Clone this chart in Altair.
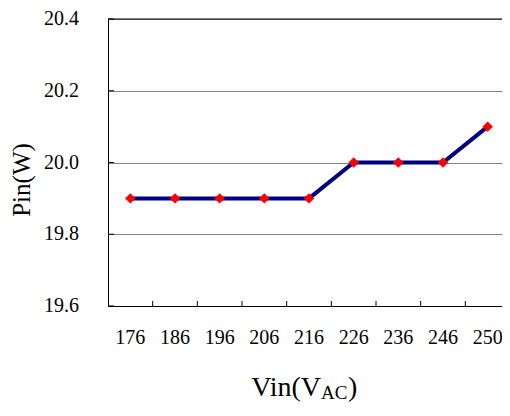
import altair as alt
import pandas as pd

vin = ["176", "186", "196", "206", "216", "226", "236", "246", "250"]
pin = [19.9, 19.9, 19.9, 19.9, 19.9, 20.0, 20.0, 20.0, 20.1]
y_ticks = [19.6, 19.8, 20.0, 20.2, 20.4]
x_title = ["Vin(V", "AC", ")"]
y_title = "Pin(W)"

W, H = 394, 287
FONT = "Liberation Serif"

df = pd.DataFrame({"vin": vin, "pin": pin})
xscale = alt.Scale(type="band", domain=vin, paddingInner=0, paddingOuter=0, range=[0, 402])
yscale = alt.Scale(domain=[19.6, 20.4], nice=False, zero=False)

base = alt.Chart(df)

line = base.mark_line(color="#000080", strokeWidth=4).encode(
    x=alt.X("vin:O", scale=xscale, bandPosition=0.5,
            axis=alt.Axis(title=None, ticks=False, labels=False, grid=False,
                          domainColor="black", domainWidth=1)),
    y=alt.Y("pin:Q", scale=yscale,
            axis=alt.Axis(title=None, values=y_ticks, ticks=False, labels=False, grid=True,
                          gridColor="#808080", gridWidth=1,
                          domainColor="black", domainWidth=1)),
)

pts = base.mark_point(shape="diamond", filled=True, color="#ff0000", opacity=1, size=110).encode(
    x=alt.X("vin:O", scale=xscale, bandPosition=0.5),
    y=alt.Y("pin:Q", scale=yscale),
)

xlab = base.mark_text(font=FONT, fontSize=20, align="center", baseline="alphabetic",
                      color="black").encode(
    x=alt.X("vin:O", scale=xscale, bandPosition=0.5),
    y=alt.value(H + 38),
    text="vin:N",
)

xt = alt.Chart(pd.DataFrame({"vin": vin[1:]})).mark_rule(color="black", strokeWidth=1).encode(
    x=alt.X("vin:O", scale=xscale, bandPosition=0),
    y=alt.value(H - 5), y2=alt.value(H),
)

ydf = pd.DataFrame({"v": y_ticks})
yt = alt.Chart(ydf).mark_rule(color="black", strokeWidth=1).encode(
    y=alt.Y("v:Q", scale=yscale),
    x=alt.value(0), x2=alt.value(6),
)

ylab = alt.Chart(ydf).transform_calculate(
    lab="format(datum.v, '.1f')"
).mark_text(font=FONT, fontSize=20, align="right", baseline="middle", color="black").encode(
    y=alt.Y("v:Q", scale=yscale),
    x=alt.value(-29),
    text="lab:N",
)

top = alt.Chart(pd.DataFrame({"v": [y_ticks[-1]]})).mark_rule(color="black", strokeWidth=1).encode(
    y=alt.Y("v:Q", scale=yscale),
    x=alt.value(0), x2=alt.value(W),
)

one = pd.DataFrame({"a": [0]})
t1 = alt.Chart(one).mark_text(text=x_title[0], font=FONT, fontSize=28, align="right",
                              baseline="alphabetic", color="black").encode(
    x=alt.value(213), y=alt.value(377))
t2 = alt.Chart(one).mark_text(text=x_title[1], font=FONT, fontSize=19, align="left",
                              baseline="alphabetic", color="black").encode(
    x=alt.value(213), y=alt.value(380))
t3 = alt.Chart(one).mark_text(text=x_title[2], font=FONT, fontSize=28, align="left",
                              baseline="alphabetic", color="black").encode(
    x=alt.value(240), y=alt.value(377))
ty = alt.Chart(one).mark_text(text=y_title, font=FONT, fontSize=25, align="center",
                              baseline="middle", angle=270, color="black").encode(
    x=alt.value(-86), y=alt.value(161))

chart = alt.layer(xt, yt, line, pts, top, xlab, ylab, t1, t2, t3, ty).properties(
    width=W, height=H,
    background="white",
    autosize=alt.AutoSizeParams(type="none"),
    padding={"left": 100, "top": 11, "right": 0, "bottom": 98},
).configure_view(stroke=None)

chart.save("out.html", embed_options={"renderer": "svg", "actions": False})
